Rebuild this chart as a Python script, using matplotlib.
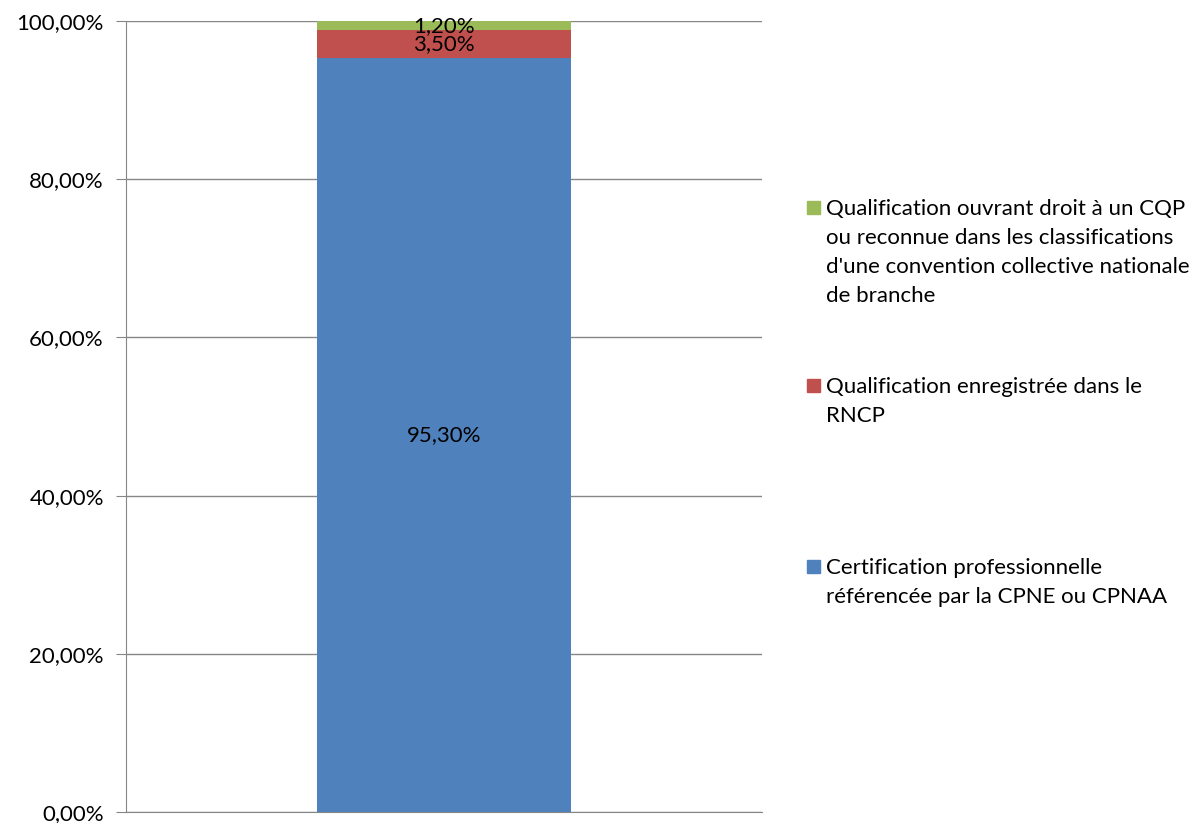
import matplotlib.pyplot as plt
from matplotlib.ticker import FuncFormatter, MultipleLocator
from matplotlib.patches import Rectangle

# données
series_labels = [
    "Certification professionnelle\nréférencée par la CPNE ou CPNAA",
    "Qualification enregistrée dans le\nRNCP",
    "Qualification ouvrant droit à un CQP\nou reconnue dans les classifications\nd'une convention collective nationale\nde branche",
]
series_values = [95.30, 3.50, 1.20]
series_colors = ['#4F81BD', '#C0504D', '#9BBB59']

plt.rcParams['font.family'] = ['Lato', 'DejaVu Sans']

fig = plt.figure(figsize=(12.01, 8.23), dpi=100)
ax = fig.add_axes([126 / 1201, 11 / 823, 636 / 1201, 791 / 823])

def fmt_pct(v):
    return f"{v:.2f}".replace('.', ',') + '%'

bottom = 0
for val, col in zip(series_values, series_colors):
    ax.bar(0, val, width=0.4, bottom=bottom, color=col, zorder=3)
    ax.text(0, bottom + val / 2, fmt_pct(val), ha='center', va='center',
            fontsize=16, color='black', zorder=4)
    bottom += val

ax.set_xlim(-0.5, 0.5)
ax.set_ylim(0, 100)
ax.yaxis.set_major_locator(MultipleLocator(20))
ax.yaxis.set_major_formatter(FuncFormatter(lambda v, p: fmt_pct(v)))
ax.tick_params(axis='y', labelsize=16, length=7, color='#868686', pad=9)
ax.set_xticks([])
ax.grid(axis='y', color='#868686', linewidth=1, zorder=0)
for s in ['top', 'right']:
    ax.spines[s].set_visible(False)
for s in ['left', 'bottom']:
    ax.spines[s].set_color('#868686')

# légende (ordre inverse, comme Excel)
legend_y = [207, 385, 566]
for lab, col, y in zip(series_labels[::-1], series_colors[::-1], legend_y):
    fig.patches.append(Rectangle((807 / 1201, 1 - (y + 7) / 823), 13 / 1201, 13 / 823,
                                 transform=fig.transFigure, color=col))
    fig.text(826 / 1201, 1 - (y - 8) / 823, lab, ha='left', va='top',
             fontsize=16, linespacing=1.56)

fig.savefig('out.png', dpi=100)
